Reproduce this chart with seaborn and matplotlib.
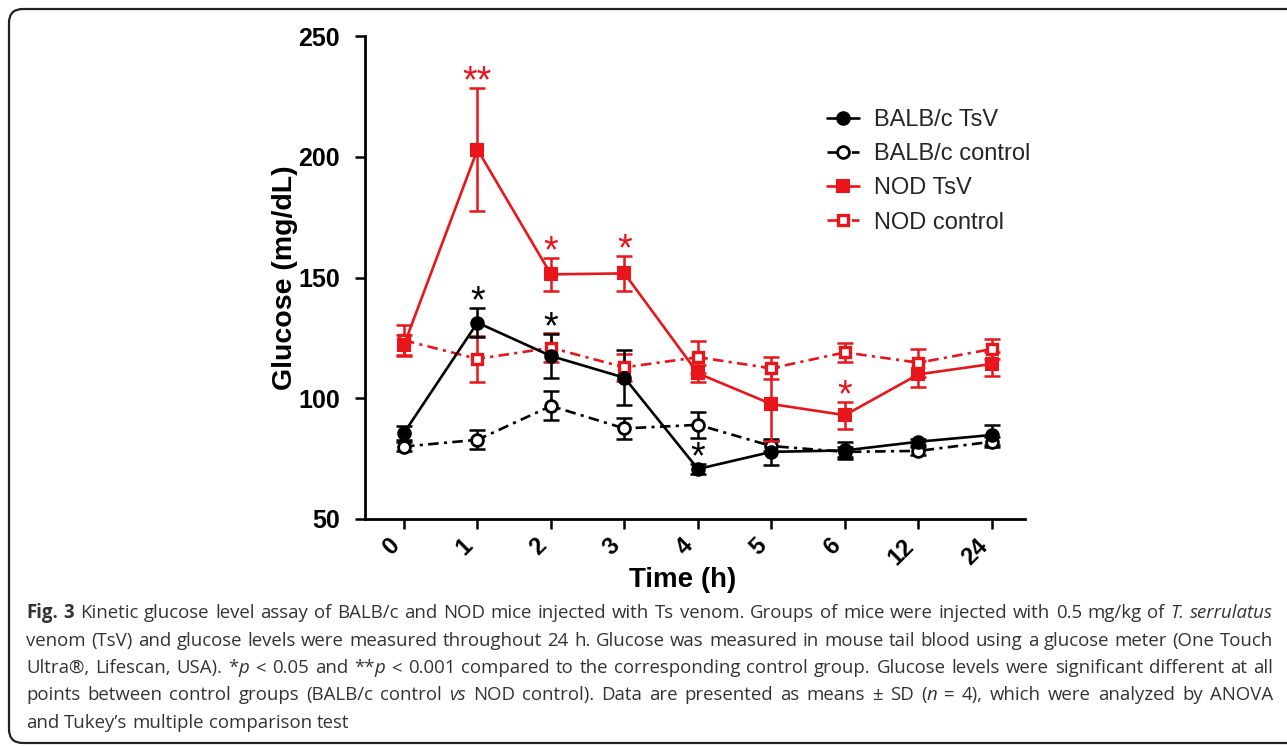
import numpy as np
import pandas as pd
import matplotlib
matplotlib.use("Agg")
import matplotlib.pyplot as plt
import seaborn as sns
from matplotlib.patches import FancyBboxPatch
from matplotlib.transforms import IdentityTransform

# ---------------- data ----------------
times = ["0", "1", "2", "3", "4", "5", "6", "12", "24"]

balb_tsv = [85.6, 131.3, 117.5, 108.5, 70.7, 77.8, 78.4, 82.0, 84.8]
balb_tsv_sd = [3.0, 6.0, 9.0, 11.5, 2.0, 5.5, 3.5, 1.2, 4.2]
balb_ctrl = [80.0, 82.8, 96.8, 87.5, 89.0, 80.2, 77.8, 78.2, 82.0]
balb_ctrl_sd = [2.0, 4.0, 6.0, 4.5, 5.5, 2.0, 2.0, 1.5, 2.0]
nod_tsv = [122.0, 203.0, 151.3, 151.7, 110.3, 97.6, 93.0, 109.9, 114.2]
nod_tsv_sd = [4.0, 25.5, 6.7, 7.3, 3.5, 15.5, 5.6, 5.4, 5.0]
nod_ctrl = [124.0, 116.3, 120.9, 112.8, 117.0, 112.4, 119.0, 114.7, 120.4]
nod_ctrl_sd = [6.5, 9.5, 6.0, 5.5, 6.5, 4.6, 3.8, 5.8, 4.0]

labels = ["BALB/c TsV", "BALB/c control", "NOD TsV", "NOD control"]
yticks = [50, 100, 150, 200, 250]

# significance marks: (series label, time index, text)
stars = [("NOD TsV", 1, "**"), ("NOD TsV", 2, "*"), ("NOD TsV", 3, "*"),
         ("NOD TsV", 6, "*"), ("BALB/c TsV", 1, "*"), ("BALB/c TsV", 2, "*"),
         ("BALB/c TsV", 4, "*")]

# ---------------- style ----------------
sns.set_theme(style="ticks")
plt.rcParams["font.family"] = ["Liberation Sans", "DejaVu Sans"]

W, H = 1287, 746
fig = plt.figure(figsize=(W / 100, H / 100), dpi=100)
ax = fig.add_axes([365 / W, 1 - 519 / H, 660 / W, 483 / H])

RED = "#e8161b"
DASHDOT = (4.0, 2.0, 1.2, 2.0)
x = np.arange(len(times))

series = [
    dict(label=labels[0], y=balb_tsv, sd=balb_tsv_sd, color="black", marker="o",
         mfc="black", ms=9, mew=1.5, dash=None, z=4),
    dict(label=labels[1], y=balb_ctrl, sd=balb_ctrl_sd, color="black", marker="o",
         mfc="white", ms=8.5, mew=2.0, dash=DASHDOT, z=3),
    dict(label=labels[2], y=nod_tsv, sd=nod_tsv_sd, color=RED, marker="s",
         mfc=RED, ms=8, mew=1.5, dash=None, z=4),
    dict(label=labels[3], y=nod_ctrl, sd=nod_ctrl_sd, color=RED, marker="s",
         mfc="white", ms=7.5, mew=2.4, dash=DASHDOT, z=3),
]

for s in series:
    ax.errorbar(x, s["y"], yerr=s["sd"], fmt="none", ecolor=s["color"],
                elinewidth=1.8, capsize=5.5, capthick=1.8, zorder=s["z"] - 1)
    df = pd.DataFrame({"t": x, "g": s["y"]})
    sns.lineplot(data=df, x="t", y="g", ax=ax, color=s["color"], lw=1.9,
                 marker=s["marker"], markersize=s["ms"],
                 markerfacecolor=s["mfc"], markeredgecolor=s["color"],
                 markeredgewidth=s["mew"], label=s["label"], zorder=s["z"])
    if s["dash"] is not None:
        ax.lines[-1].set_dashes(s["dash"])

# significance stars
lookup = {s["label"]: s for s in series}
for lab, i, txt in stars:
    s = lookup[lab]
    top = s["y"][i] + s["sd"][i]
    ax.annotate(txt, xy=(i, top), xytext=(0, -3), textcoords="offset points",
                ha="center", va="baseline", fontsize=27, color=s["color"])

ax.set_xlim(-0.53, 8.45)
ax.set_ylim(50, 250)
ax.set_yticks(yticks)
ax.set_xticks(x)
ax.set_xticklabels(times, rotation=45, ha="right", fontweight="bold", fontsize=17)
for t in ax.get_yticklabels():
    t.set_fontweight("bold")
    t.set_fontsize(18)
ax.tick_params(axis="both", direction="out", length=7, width=1.8, color="black",
               labelcolor="black")
ax.tick_params(axis="y", pad=11)
ax.tick_params(axis="x", pad=4)
for side in ["left", "bottom"]:
    ax.spines[side].set_linewidth(2.0)
    ax.spines[side].set_color("black")
sns.despine(ax=ax)

ax.set_xlabel("Time (h)", fontsize=20, fontweight="bold", color="black")
ax.set_ylabel("Glucose (mg/dL)", fontsize=20.5, fontweight="bold", color="black")
ax.xaxis.set_label_coords((683 - 365) / 660, (519 - 580) / 483)
ax.yaxis.set_label_coords((285 - 365) / 660, 0.5)
ax.xaxis.label.set_va("center")
ax.yaxis.label.set_va("center")

handles, labs = ax.get_legend_handles_labels()
ax.legend(handles, labs, loc="upper left", bbox_to_anchor=(815 / W, 1 - 97 / H),
          bbox_transform=fig.transFigure, frameon=False, fontsize=17,
          handlelength=1.35, handletextpad=0.65, labelspacing=0.52, borderpad=0,
          numpoints=1)

# ---------------- caption (justified) ----------------
def words(s, style="normal"):
    return [[(w, style)] for w in s.split()]

cap_lines = [
    [[("Fig.", "bold")], [("3", "bold")]]
    + words("Kinetic glucose level assay of BALB/c and NOD mice injected with Ts venom. "
            "Groups of mice were injected with 0.5 mg/kg of")
    + [[("T.", "italic")], [("serrulatus", "italic")]],
    words("venom (TsV) and glucose levels were measured throughout 24 h. Glucose was "
          "measured in mouse tail blood using a glucose meter (One Touch"),
    words("Ultra®, Lifescan, USA).") + [[("*", "normal"), ("p", "italic")]]
    + words("< 0.05 and") + [[("**", "normal"), ("p", "italic")]]
    + words("< 0.001 compared to the corresponding control group. Glucose levels "
            "were significant different at all"),
    words("points between control groups (BALB/c control") + [[("vs", "italic")]]
    + words("NOD control). Data are presented as means ± SD")
    + [[("(", "normal"), ("n", "italic")]] + words("= 4), which were analyzed by ANOVA"),
    words("and Tukey’s multiple comparison test"),
]
justify = [True, True, True, True, False]
baselines = [618, 646, 673, 700, 728]
X0, X1 = 26, 1273
CAP_FONT = ["Open Sans", "DejaVu Sans"]

renderer = fig.canvas.get_renderer()
built = []
for line in cap_lines:
    bl = []
    for word in line:
        segs = []
        for txt, st in word:
            t = fig.text(0, 0, txt, transform=IdentityTransform(), family=CAP_FONT,
                         fontsize=12, color="#333333",
                         fontweight="bold" if st == "bold" else "normal",
                         fontstyle="italic" if st == "italic" else "normal",
                         ha="left", va="baseline")
            segs.append(t)
        bl.append(segs)
    built.append(bl)

def measure(fs):
    res = []
    for bl in built:
        ws = []
        for segs in bl:
            sw = []
            for t in segs:
                t.set_fontsize(fs)
                sw.append(t.get_window_extent(renderer).width)
            ws.append(sw)
        res.append(ws)
    return res

fs0 = 12
m = measure(fs0)
space0 = 0.26 * fs0 * 100 / 72
nat = [sum(sum(w) for w in ws) + space0 * (len(ws) - 1) for ws in m]
fs = fs0 * (X1 - X0 - 15) / max(nat[:4])
m = measure(fs)
space = 0.26 * fs * 100 / 72

for bl, ws, j, yb in zip(built, m, justify, baselines):
    tot = sum(sum(w) for w in ws)
    gap = (X1 - X0 - tot) / (len(ws) - 1) if j else space
    xp = X0
    for segs, sw in zip(bl, ws):
        xx = xp
        for t, w in zip(segs, sw):
            t.set_position((xx, H - yb))
            xx += w
        xp += sum(sw) + gap

# rounded frame
frame = FancyBboxPatch((9, 3), 1320, 734, boxstyle="round,pad=0,rounding_size=14",
                       transform=IdentityTransform(), fill=False, lw=1.6,
                       ec="#222222")
fig.add_artist(frame)

fig.savefig("out.png", dpi=100)
